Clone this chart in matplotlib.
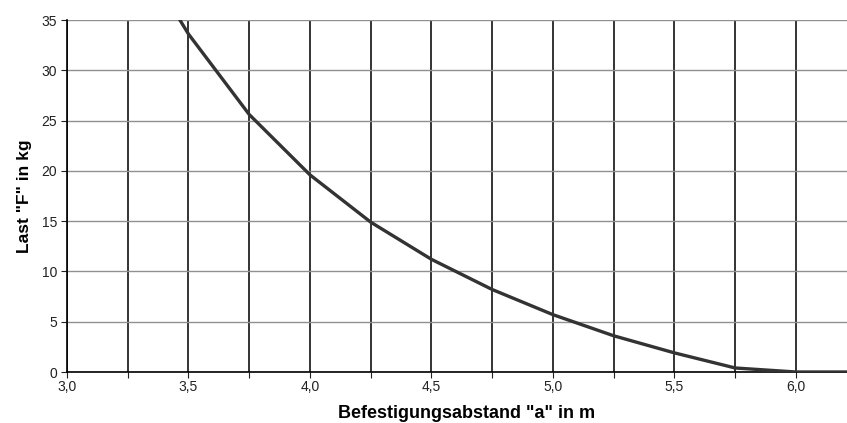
import numpy as np
import matplotlib.pyplot as plt
from matplotlib.ticker import MultipleLocator, FuncFormatter

plt.rcParams['font.family'] = ['Liberation Sans', 'DejaVu Sans']

# Befestigungsabstand a (m) und Last F (kg)
abstand = [3.25, 3.5, 3.75, 4.0, 4.25, 4.5, 4.75, 5.0, 5.25, 5.5, 5.75, 6.0, 6.25]
last = [43.5, 33.6, 25.6, 19.6, 14.9, 11.2, 8.2, 5.7, 3.6, 1.9, 0.4, 0.0, 0.0]

fig = plt.figure(figsize=(8.47, 4.23), dpi=100)
ax = fig.add_axes([67/847, 1 - 372/423, 1 - 67/847, (372 - 20)/423])

ax.set_xlim(3.0, 6.21)
ax.set_ylim(0, 35)

# vertikale Gitterlinien alle 0,25 m
ax.xaxis.set_major_locator(MultipleLocator(0.5))
ax.xaxis.set_minor_locator(MultipleLocator(0.25))
ax.yaxis.set_major_locator(MultipleLocator(5))
ax.grid(axis='x', which='both', color='#111111', linewidth=1.2)
ax.grid(axis='y', which='major', color='#909090', linewidth=1.0)
ax.set_axisbelow(True)

ax.plot(abstand, last, color='#333333', linewidth=2.4, clip_on=True, zorder=3)

ax.xaxis.set_major_formatter(FuncFormatter(lambda v, p: f"{v:.1f}".replace('.', ',')))
ax.tick_params(axis='both', which='both', labelsize=10, colors='#222222', length=4, width=0.8)
ax.tick_params(axis='x', which='major', pad=2)
ax.tick_params(axis='y', pad=3)

for s in ['top', 'right']:
    ax.spines[s].set_visible(False)
ax.spines['left'].set_linewidth(1.2)
ax.spines['bottom'].set_linewidth(1.2)

ax.set_xlabel('Befestigungsabstand "a" in m', fontsize=13, fontweight='bold')
ax.xaxis.set_label_coords(0.512, -0.094)
ax.set_ylabel('Last "F" in kg', fontsize=12.5, fontweight='bold', labelpad=7)

fig.savefig('out.png', dpi=100)
